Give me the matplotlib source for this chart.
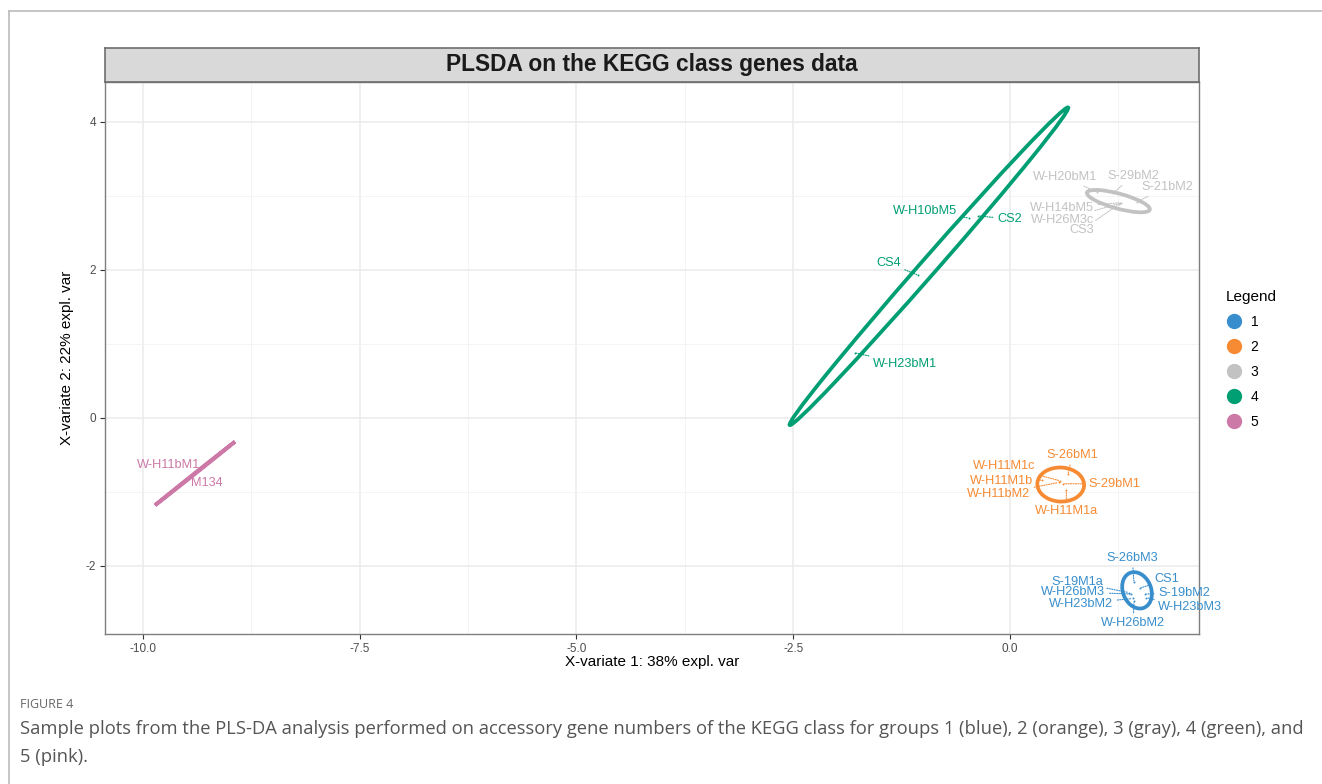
import matplotlib
matplotlib.use("Agg")
import matplotlib.pyplot as plt
from matplotlib.patches import Ellipse
from matplotlib.lines import Line2D

plt.rcParams['font.family'] = ['Liberation Sans', 'DejaVu Sans']
plt.rcParams['axes.unicode_minus'] = False

# group colours (mixOmics palette)
groups = ['1', '2', '3', '4', '5']
colors = ['#388ECC', '#F68B33', '#C2C2C2', '#009E73', '#CC79A7']

# ellipse per group: centre, full width, full height, angle (data units)
ell_x = [1.465, 0.585, 1.25, -0.935, -9.40]
ell_y = [-2.33, -0.90, 2.93, 2.05, -0.75]
ell_w = [0.50, 0.54, 0.76, 5.36, 1.26]
ell_h = [0.33, 0.46, 0.20, 0.20, 0.01]
ell_a = [104, -5, -18, 53.2, 43]

# samples: group, name, point x/y, label x/y, label alignment
s_group = [1, 1, 1, 1, 1, 1, 1, 1,
           2, 2, 2, 2, 2, 2,
           3, 3, 3, 3, 3, 3,
           4, 4, 4, 4,
           5, 5]
s_name = ['S-26bM3', 'CS1', 'S-19M1a', 'W-H26bM3', 'S-19bM2', 'W-H23bM2', 'W-H23bM3', 'W-H26bM2',
          'S-26bM1', 'W-H11M1c', 'W-H11M1b', 'S-29bM1', 'W-H11bM2', 'W-H11M1a',
          'W-H20bM1', 'S-29bM2', 'S-21bM2', 'W-H14bM5', 'W-H26M3c', 'CS3',
          'W-H10bM5', 'CS2', 'CS4', 'W-H23bM1',
          'W-H11bM1', 'M134']
s_x = [1.43, 1.50, 1.37, 1.40, 1.56, 1.42, 1.57, 1.43,
       0.67, 0.58, 0.37, 0.61, 0.57, 0.65,
       1.00, 1.19, 1.46, 1.28, 1.27, 1.26,
       -0.47, -0.37, -1.06, -1.79,
       -9.30, -9.50]
s_y = [-2.22, -2.30, -2.36, -2.38, -2.38, -2.44, -2.43, -2.48,
       -0.76, -0.85, -0.84, -0.89, -0.87, -0.97,
       3.05, 3.04, 2.92, 2.91, 2.90, 2.89,
       2.70, 2.73, 1.93, 0.88,
       -0.66, -0.84]
l_x = [1.41, 1.67, 1.07, 1.10, 1.71, 1.19, 1.71, 1.42,
       0.72, 0.29, 0.27, 0.90, 0.23, 0.65,
       0.63, 1.42, 1.82, 0.97, 0.97, 0.97,
       -0.61, -0.15, -1.26, -1.58,
       -9.34, -9.45]
l_y = [-1.89, -2.18, -2.22, -2.35, -2.36, -2.51, -2.55, -2.77,
       -0.50, -0.65, -0.85, -0.89, -1.03, -1.26,
       3.26, 3.27, 3.12, 2.84, 2.68, 2.54,
       2.80, 2.69, 2.09, 0.73,
       -0.64, -0.88]
l_ha = ['center', 'left', 'right', 'right', 'left', 'right', 'left', 'center',
        'center', 'right', 'right', 'left', 'right', 'center',
        'center', 'center', 'center', 'right', 'right', 'right',
        'right', 'left', 'right', 'left',
        'right', 'left']

x_ticks = [-10.0, -7.5, -5.0, -2.5, 0.0]
y_ticks = [-2, 0, 2, 4]

W, H = 1322, 784
fig = plt.figure(figsize=(W / 100, H / 100), dpi=100)

# outer frame of the figure page
fig.add_artist(Line2D([9 / W, 9 / W], [0, 1 - 11 / H], color='#BBBBBB', lw=1.2, transform=fig.transFigure))
fig.add_artist(Line2D([9 / W, 1], [1 - 11 / H, 1 - 11 / H], color='#BBBBBB', lw=1.2, transform=fig.transFigure))

ax = fig.add_axes([105 / W, 1 - 634 / H, (1199 - 105) / W, (634 - 82) / H])
ax.set_xlim(-10.438, 2.18)
ax.set_ylim(-2.92, 4.54)
ax.set_xticks(x_ticks)
ax.set_xticklabels(['%.1f' % v for v in x_ticks])
ax.set_yticks(y_ticks)
ax.set_xticks([-8.75, -6.25, -3.75, -1.25, 1.25], minor=True)
ax.set_yticks([-1, 1, 3], minor=True)
ax.grid(True, which='major', color='#EBEBEB', lw=1.1)
ax.grid(True, which='minor', color='#F2F2F2', lw=0.6)
ax.set_axisbelow(True)
ax.tick_params(which='major', length=3.5, width=0.8, color='#333333', labelsize=8.5, labelcolor='#4D4D4D', pad=3)
ax.tick_params(which='minor', length=0)
for sp in ax.spines.values():
    sp.set_color('#7F7F7F')
    sp.set_linewidth(1.0)

ax.set_xlabel('X-variate 1: 38% expl. var', fontsize=11, labelpad=0)
ax.set_ylabel('X-variate 2: 22% expl. var', fontsize=11, labelpad=8)

for i in range(len(groups)):
    ax.add_patch(Ellipse((ell_x[i], ell_y[i]), ell_w[i], ell_h[i], angle=ell_a[i],
                         fill=False, ec=colors[i], lw=2.7, zorder=3))

for i in range(len(s_name)):
    c = colors[s_group[i] - 1]
    ax.scatter(s_x[i], s_y[i], s=2, color=c, zorder=4, lw=0)
    ax.annotate(s_name[i], xy=(s_x[i], s_y[i]), xytext=(l_x[i], l_y[i]),
                ha=l_ha[i], va='center', fontsize=9.2, color=c, zorder=5,
                arrowprops=dict(arrowstyle='-', color=c, lw=0.8, ls=(0, (1, 1.2)),
                                shrinkA=1, shrinkB=1))

# title strip
sax = fig.add_axes([105 / W, 1 - 82 / H, (1199 - 105) / W, 34 / H])
sax.set_xticks([])
sax.set_yticks([])
sax.set_facecolor('#D9D9D9')
for sp in sax.spines.values():
    sp.set_color('#6E6E6E')
    sp.set_linewidth(1.2)
sax.text(0.5, 0.5, 'PLSDA on the KEGG class genes data', ha='center', va='center',
         fontsize=16.4, fontweight='bold', color='#1A1A1A', transform=sax.transAxes)

handles = [Line2D([], [], marker='o', ls='', color=c, markersize=10) for c in colors]
leg = fig.legend(handles, groups, title='Legend', loc='upper left',
                 bbox_to_anchor=(1213 / W, 1 - 278 / H), frameon=False,
                 fontsize=10, title_fontsize=11, labelspacing=0.78,
                 handletextpad=0.6, handlelength=1.2)
leg._legend_box.align = 'left'

fig.text(20 / W, 1 - 705 / H, 'FIGURE 4', fontsize=9, color='#666666', family='Open Sans', va='center')
fig.text(20 / W, 1 - 729 / H,
         'Sample plots from the PLS-DA analysis performed on accessory gene numbers of the KEGG class for groups 1 (blue), 2 (orange), 3 (gray), 4 (green), and',
         fontsize=13.2, color='#555555', family='Open Sans', va='center')
fig.text(20 / W, 1 - 757 / H, '5 (pink).', fontsize=13.2, color='#555555', family='Open Sans', va='center')

fig.savefig('out.png', dpi=100)
